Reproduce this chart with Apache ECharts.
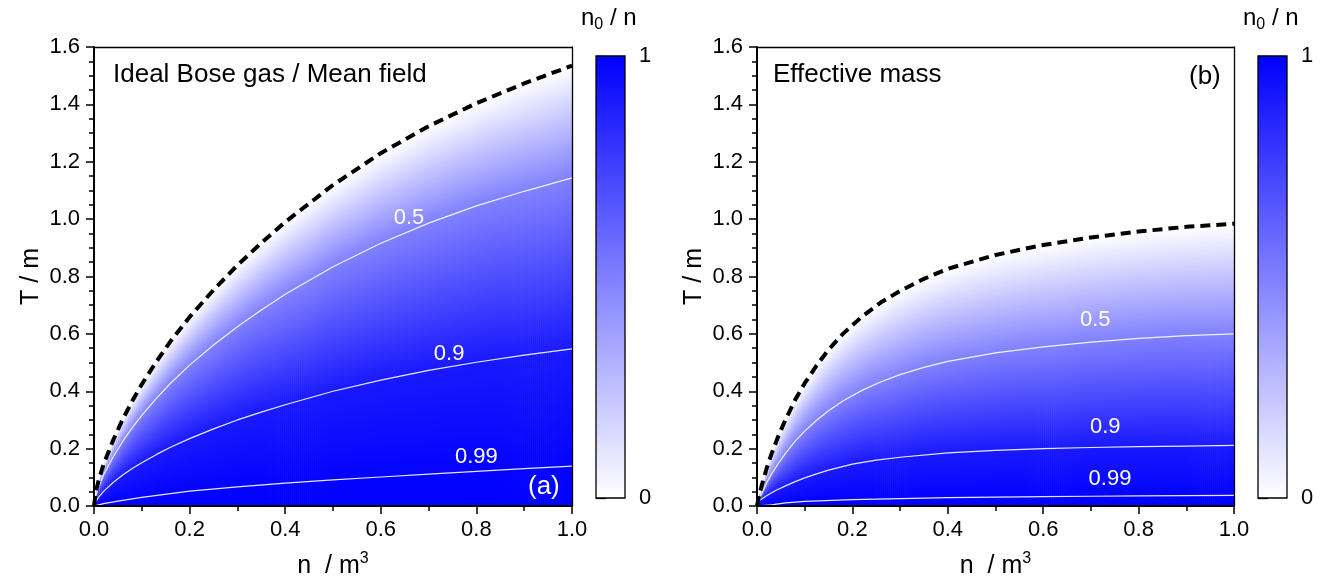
<!DOCTYPE html>
<html>
<head>
<meta charset="utf-8">
<title>n0 / n</title>
<script src="https://cdn.jsdelivr.net/npm/echarts@6/dist/echarts.min.js"></script>
<style>
    html, body { margin: 0; padding: 0; background: #fff; }
    #main { width: 1340px; height: 577px; }
</style>
</head>
<body>
<div id="main"></div>
<script>
// ---- 数据 ----
// (a) Ideal Bose gas / Mean field
var leftN     = [0, 0.004, 0.01, 0.02, 0.04, 0.06, 0.08, 0.1, 0.13, 0.16, 0.2, 0.25, 0.3, 0.35, 0.4, 0.5, 0.6, 0.7, 0.8, 0.9, 1.0];
var leftTcT   = [0, 0.05, 0.092, 0.145, 0.229, 0.302, 0.366, 0.424, 0.502, 0.574, 0.659, 0.753, 0.839, 0.917, 0.990, 1.119, 1.230, 1.324, 1.404, 1.473, 1.535];
var left05T   = [0, 0.037, 0.068, 0.108, 0.171, 0.225, 0.273, 0.316, 0.374, 0.428, 0.491, 0.561, 0.625, 0.683, 0.738, 0.834, 0.916, 0.986, 1.046, 1.097, 1.144];
var left09T   = [0, 0.016, 0.031, 0.051, 0.082, 0.108, 0.131, 0.151, 0.179, 0.205, 0.235, 0.269, 0.300, 0.327, 0.353, 0.400, 0.439, 0.473, 0.501, 0.526, 0.548];
var left099N  = [0, 0.01, 0.02, 0.05, 0.1, 0.2, 0.3, 0.4, 0.5, 0.6, 0.7, 0.8, 0.9, 1.0];
var left099T  = [0, 0.004, 0.008, 0.017, 0.03, 0.052, 0.067, 0.08, 0.091, 0.101, 0.111, 0.121, 0.13, 0.139];

// (b) Effective mass
var rightN    = [0, 0.005, 0.01, 0.02, 0.03, 0.045, 0.06, 0.08, 0.1, 0.125, 0.15, 0.18, 0.22, 0.26, 0.3, 0.35, 0.4, 0.5, 0.6, 0.7, 0.8, 0.9, 1.0];
var rightTcT  = [0, 0.04, 0.072, 0.13, 0.18, 0.245, 0.302, 0.37, 0.428, 0.49, 0.545, 0.60, 0.66, 0.71, 0.75, 0.792, 0.827, 0.875, 0.91, 0.936, 0.957, 0.973, 0.984];
var right05T  = [0, 0.024, 0.044, 0.079, 0.11, 0.149, 0.184, 0.226, 0.261, 0.299, 0.332, 0.366, 0.403, 0.433, 0.458, 0.483, 0.504, 0.534, 0.555, 0.571, 0.584, 0.594, 0.60];
var right09N  = [0, 0.006, 0.02, 0.04, 0.06, 0.08, 0.1, 0.125, 0.15, 0.2, 0.25, 0.3, 0.4, 0.5, 0.6, 0.7, 0.8, 0.9, 1.0];
var right09T  = [0, 0.02, 0.036, 0.055, 0.07, 0.085, 0.098, 0.112, 0.125, 0.146, 0.16, 0.17, 0.185, 0.194, 0.2, 0.204, 0.207, 0.209, 0.211];
var right099N = [0, 0.03, 0.06, 0.1, 0.2, 0.3, 0.4, 0.5, 0.6, 0.7, 0.8, 0.9, 1.0];
var right099T = [0, 0.004, 0.011, 0.016, 0.022, 0.026, 0.029, 0.031, 0.033, 0.034, 0.035, 0.036, 0.037];

// 等值线的值 和 标注位置
var levels = [0, 0.5, 0.9, 0.99, 1];
var labelTexts = ["0.5", "0.9", "0.99"];
var leftLabelN  = [0.659, 0.743, 0.80];
var leftLabelT  = [1.004, 0.53, 0.171];
var rightLabelN = [0.709, 0.73, 0.74];
var rightLabelT = [0.648, 0.275, 0.094];

var FONT = "Liberation Sans, Arial, sans-serif";

function pairs(xs, ys) {
    return xs.map(function (x, i) { return [x, ys[i]]; });
}

function interp(xs, ys, x) {
    for (var i = 1; i < xs.length; i++) {
        if (x <= xs[i]) {
            var f = (x - xs[i - 1]) / (xs[i] - xs[i - 1]);
            return ys[i - 1] + f * (ys[i] - ys[i - 1]);
        }
    }
    return ys[ys.length - 1];
}

// 值 0 -> 白色, 1 -> 蓝色
function levelColor(v) {
    var c = Math.round(255 * (1 - v));
    return "rgb(" + c + "," + c + ",255)";
}

// 用读到的曲线生成每一列: [n, 半宽, Tc, T(0.5), T(0.9), T(0.99)]
function buildColumns(curves, count) {
    var step = 1 / count, cols = [];
    for (var i = 0; i < count; i++) {
        var n = (i + 0.5) * step;
        var row = [n, step / 2];
        curves.forEach(function (c) { row.push(interp(c[0], c[1], n)); });
        cols.push(row);
    }
    return cols;
}

var leftCols = buildColumns([[leftN, leftTcT], [leftN, left05T], [leftN, left09T], [left099N, left099T]], 240);
var rightCols = buildColumns([[rightN, rightTcT], [rightN, right05T], [right09N, right09T], [right099N, right099T]], 240);

function renderColumn(params, api) {
    var n = api.value(0), half = api.value(1), tc = api.value(2);
    if (!(tc > 0)) return;
    var p0 = api.coord([n - half, tc]);
    var p1 = api.coord([n + half, 0]);
    var stops = [{offset: 0, color: levelColor(0)}];
    var last = 0;
    for (var k = 1; k <= 3; k++) {
        var off = Math.min(1, Math.max(last, (tc - api.value(2 + k)) / tc));
        stops.push({offset: off, color: levelColor(levels[k])});
        last = off;
    }
    stops.push({offset: 1, color: levelColor(1)});
    return {
        type: "rect",
        shape: {x: p0[0], y: p0[1], width: p1[0] - p0[0] + 0.7, height: p1[1] - p0[1]},
        style: {fill: new echarts.graphic.LinearGradient(0, 0, 0, 1, stops)}
    };
}

function renderBar(params, api) {
    var p0 = api.coord([0, 1]);
    var p1 = api.coord([1, 0]);
    return {
        type: "rect",
        shape: {x: p0[0], y: p0[1], width: p1[0] - p0[0], height: p1[1] - p0[1]},
        style: {
            fill: new echarts.graphic.LinearGradient(0, 0, 0, 1, [
                {offset: 0, color: levelColor(1)},
                {offset: 1, color: levelColor(0)}
            ]),
            stroke: "#000",
            lineWidth: 1.3
        }
    };
}

// 等值线上的数字
function renderLabel(params, api) {
    var p = api.coord([api.value(0), api.value(1)]);
    return {
        type: "text",
        x: p[0], y: p[1],
        style: {text: labelTexts[params.dataIndex], fill: "#fff", fontSize: 22, fontFamily: FONT,
            align: "center", verticalAlign: "middle"}
    };
}

function mainX(gridIndex) {
    return {
        type: "value", gridIndex: gridIndex, min: 0, max: 1, interval: 0.2, z: 10,
        name: "n  / m{sup|3}", nameLocation: "middle", nameGap: 45,
        nameTextStyle: {fontSize: 25, color: "#000", fontFamily: FONT,
            rich: {sup: {fontSize: 16, verticalAlign: "top", padding: [0, 0, 14, 0], color: "#000", fontFamily: FONT}}},
        axisLine: {lineStyle: {color: "#000", width: 2}},
        axisTick: {length: 8, lineStyle: {color: "#000", width: 1.5}},
        minorTick: {show: true, splitNumber: 2, length: 5, lineStyle: {color: "#000", width: 1.5}},
        splitLine: {show: false},
        axisLabel: {fontSize: 22, color: "#000", fontFamily: FONT, margin: 13,
            formatter: function (v) { return v.toFixed(1); }}
    };
}

function mainY(gridIndex) {
    return {
        type: "value", gridIndex: gridIndex, min: 0, max: 1.6, interval: 0.2, z: 10,
        name: "T / m", nameLocation: "middle", nameGap: 50,
        nameTextStyle: {fontSize: 25, color: "#000", fontFamily: FONT},
        axisLine: {lineStyle: {color: "#000", width: 2}},
        axisTick: {length: 8, lineStyle: {color: "#000", width: 1.5}},
        minorTick: {show: true, splitNumber: 4, length: 5, lineStyle: {color: "#000", width: 1.5}},
        splitLine: {show: false},
        axisLabel: {fontSize: 22, color: "#000", fontFamily: FONT, margin: 14,
            formatter: function (v) { return v.toFixed(1); }}
    };
}

// 上边框 / 右边框
function frameAxis(gridIndex, pos, max) {
    return {
        type: "value", gridIndex: gridIndex, position: pos, min: 0, max: max, z: 10,
        axisLine: {show: true, onZero: false, lineStyle: {color: "#000", width: 1.3}},
        axisTick: {show: false}, axisLabel: {show: false}, splitLine: {show: false}
    };
}

function barY(gridIndex) {
    return {
        type: "value", gridIndex: gridIndex, position: "right", min: 0, max: 1, interval: 1,
        axisLine: {show: false},
        axisTick: {length: 10, lineStyle: {color: "#000", width: 1.3}},
        splitLine: {show: false},
        axisLabel: {fontSize: 22, color: "#000", fontFamily: FONT, margin: 14}
    };
}

function contour(xi, yi, xs, ys) {
    return {
        type: "line", xAxisIndex: xi, yAxisIndex: yi, data: pairs(xs, ys),
        showSymbol: false, smooth: false, z: 4, silent: true,
        lineStyle: {color: "rgba(255,255,255,0.9)", width: 1.2}
    };
}

function dashed(xi, yi, xs, ys) {
    return {
        type: "line", xAxisIndex: xi, yAxisIndex: yi, data: pairs(xs, ys),
        showSymbol: false, smooth: false, z: 5, silent: true,
        lineStyle: {color: "#000", width: 4, type: [10, 6]}
    };
}

function labels(xi, yi, ns, ts) {
    return {
        type: "custom", xAxisIndex: xi, yAxisIndex: yi, z: 6, silent: true,
        data: pairs(ns, ts), renderItem: renderLabel
    };
}

var myChart = echarts.init(document.getElementById("main"));

var option = {
    animation: false,
    backgroundColor: "#fff",
    grid: [
        {left: 94, top: 47, width: 478, height: 459, outerBoundsMode: "none"},
        {left: 757, top: 47, width: 477, height: 459, outerBoundsMode: "none"},
        {left: 596, top: 56, width: 29, height: 442, outerBoundsMode: "none"},
        {left: 1258, top: 56, width: 29, height: 442, outerBoundsMode: "none"}
    ],
    xAxis: [
        mainX(0), frameAxis(0, "top", 1),
        mainX(1), frameAxis(1, "top", 1),
        {type: "value", gridIndex: 2, min: 0, max: 1, show: false},
        {type: "value", gridIndex: 3, min: 0, max: 1, show: false}
    ],
    yAxis: [
        mainY(0), frameAxis(0, "right", 1.6),
        mainY(1), frameAxis(1, "right", 1.6),
        barY(2), barY(3)
    ],
    series: [
        {type: "custom", xAxisIndex: 0, yAxisIndex: 0, data: leftCols, renderItem: renderColumn, clip: true, z: 2, silent: true},
        {type: "custom", xAxisIndex: 2, yAxisIndex: 2, data: rightCols, renderItem: renderColumn, clip: true, z: 2, silent: true},
        contour(0, 0, leftN, left05T), contour(0, 0, leftN, left09T), contour(0, 0, left099N, left099T),
        contour(2, 2, rightN, right05T), contour(2, 2, right09N, right09T), contour(2, 2, right099N, right099T),
        dashed(0, 0, leftN, leftTcT),
        dashed(2, 2, rightN, rightTcT),
        labels(0, 0, leftLabelN, leftLabelT),
        labels(2, 2, rightLabelN, rightLabelT),
        {type: "custom", xAxisIndex: 4, yAxisIndex: 4, data: [[0.5, 0.5]], renderItem: renderBar, silent: true},
        {type: "custom", xAxisIndex: 5, yAxisIndex: 5, data: [[0.5, 0.5]], renderItem: renderBar, silent: true}
    ],
    graphic: [
        {type: "text", left: 113, top: 62, z: 20,
            style: {text: "Ideal Bose gas / Mean field", fontSize: 26, fontFamily: FONT, fill: "#000"}},
        {type: "text", left: 773, top: 62, z: 20,
            style: {text: "Effective mass", fontSize: 26, fontFamily: FONT, fill: "#000"}},
        {type: "text", left: 528, top: 474, z: 20,
            style: {text: "(a)", fontSize: 26, fontFamily: FONT, fill: "#fff"}},
        {type: "text", left: 1189, top: 64, z: 20,
            style: {text: "(b)", fontSize: 26, fontFamily: FONT, fill: "#000"}},
        {type: "text", left: 581, top: 6, z: 20,
            style: {text: "n{sub|0} / n", fontSize: 24, fontFamily: FONT, fill: "#000",
                rich: {sub: {fontSize: 16, fontFamily: FONT, verticalAlign: "bottom", padding: [14, 0, 0, 0]}}}},
        {type: "text", left: 1243, top: 6, z: 20,
            style: {text: "n{sub|0} / n", fontSize: 24, fontFamily: FONT, fill: "#000",
                rich: {sub: {fontSize: 16, fontFamily: FONT, verticalAlign: "bottom", padding: [14, 0, 0, 0]}}}}
    ]
};

myChart.setOption(option);
</script>
</body>
</html>
